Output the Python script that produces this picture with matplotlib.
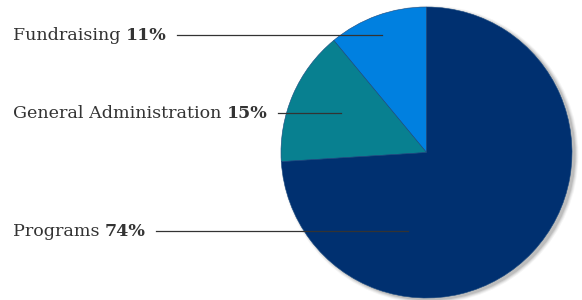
import matplotlib
matplotlib.use("Agg")
import matplotlib.pyplot as plt
from matplotlib.patches import Circle

# data
labels = ["Fundraising", "General Administration", "Programs"]
shares = [11, 15, 74]
colors = ["#0080e0", "#088090", "#003070"]

# layout (pixel coords, y from top)
CX, CY, R = 426.5, 152.5, 145.5
label_y = [35, 113, 231]
line_end_x = [382, 341, 408]
TXT = "#333333"
FONT = "DejaVu Serif"
FS = 12.6

fig = plt.figure(figsize=(5.82, 3.0), dpi=100)
ax = fig.add_axes([0, 0, 1, 1])

# soft shadow, mostly right/bottom
for r_add, a in [(3.5, 0.04), (2.5, 0.06), (1.5, 0.08), (0.5, 0.10)]:
    ax.add_patch(Circle((CX + 3.0, 300 - CY - 2.0), R + r_add,
                        color="black", alpha=a, lw=0, zorder=0))

ax.pie(shares, colors=colors, startangle=90, counterclock=True,
       center=(CX, 300 - CY), radius=R, frame=True,
       wedgeprops=dict(linewidth=0.4, edgecolor="#1a4a80"))
ax.set_xlim(0, 582)
ax.set_ylim(0, 300)
ax.set_aspect("equal")
ax.axis("off")

fig.canvas.draw()
rend = fig.canvas.get_renderer()
inv = ax.transData.inverted()

for lab, s, y, xe in zip(labels, shares, label_y, line_end_x):
    t1 = ax.text(13, 300 - y, lab + " ", fontsize=FS, family=FONT, color=TXT,
                 va="center", ha="left")
    bb = t1.get_window_extent(rend)
    x1 = inv.transform((bb.x1, 0))[0]
    t2 = ax.text(x1, 300 - y, f"{s}%", fontsize=FS, family=FONT, color=TXT,
                 fontweight="bold", va="center", ha="left")
    bb2 = t2.get_window_extent(rend)
    x2 = inv.transform((bb2.x1, 0))[0]
    ax.plot([x2 + 10, xe], [300 - y, 300 - y], color="#333333", lw=0.9,
            zorder=5)

fig.savefig("out.png", dpi=100)
